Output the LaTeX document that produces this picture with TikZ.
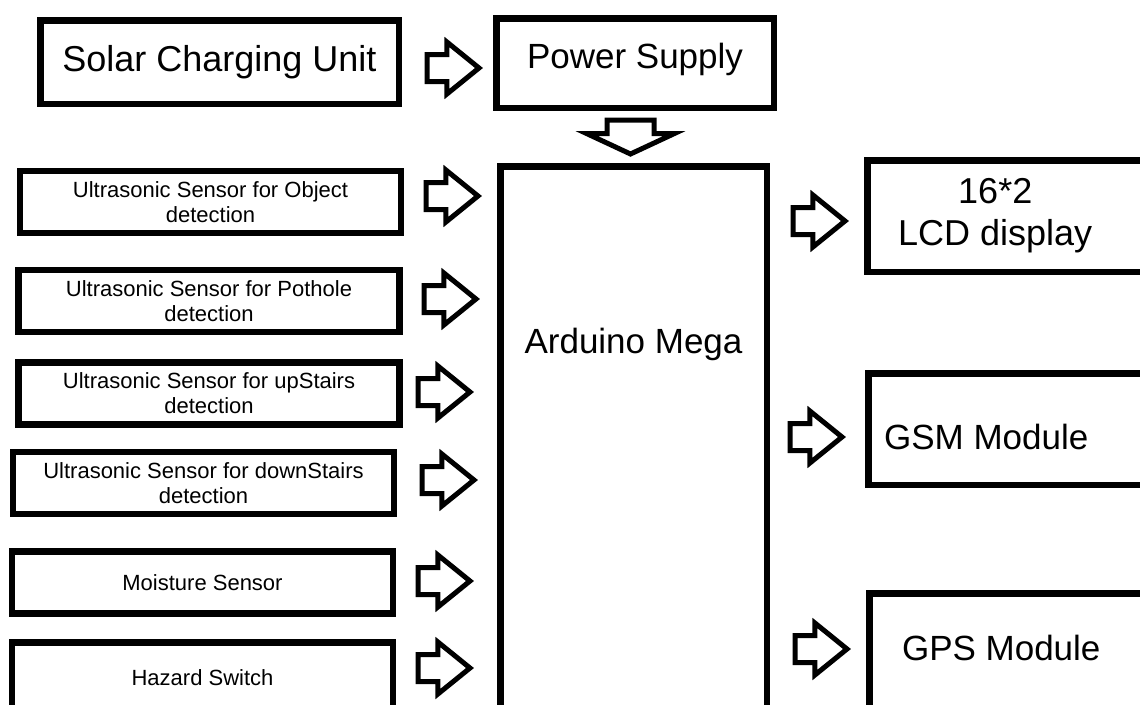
\documentclass[tikz,border=0pt]{standalone}
\usepackage{fontspec}
\setmainfont{Liberation Sans}
\usetikzlibrary{shapes.arrows}

\begin{document}
\begin{tikzpicture}[x=1pt, y=-1pt,
    box/.style={draw, line width=6.5pt, inner sep=0pt, align=center},
    sensor/.style={box, minimum width=381pt, minimum height=62pt, font=\fontsize{22}{25}\selectfont},
    bigtext/.style={align=center, inner sep=0pt, font=\fontsize{36}{42}\selectfont},
    flow/.style={single arrow, draw, line width=5pt, inner sep=0pt, text height=22pt, text depth=0pt,
        single arrow head extend=12.5pt, single arrow tip angle=78, minimum height=52pt, anchor=tail}]
  \useasboundingbox (0,0) rectangle (1140,704);
  \fill[white] (0,0) rectangle (1140,704);
  \clip (0,0) rectangle (1140,704);
  % supply
  \node[box, bigtext, minimum width=358.5pt, minimum height=83.5pt] (solar) at (219.5,62) {Solar Charging Unit};
  \node[box, font=\fontsize{35}{42}\selectfont, minimum width=277.5pt, text height=49.75pt, text depth=39.75pt,
      anchor=north] (power) at (635,15.25) {Power Supply};
  \node[box, font=\fontsize{35}{42}\selectfont, minimum width=266.5pt, text height=187pt, text depth=377pt,
      anchor=north] (mega) at (633.5,163.25) {Arduino Mega};
  \node[flow] (solarin) at (424.5,68) {};
  \node[flow, rotate=-90, text height=42pt, single arrow head extend=20pt,
      single arrow tip angle=130, minimum height=34pt] (powerin) at (630.5,117.5) {};
  % inputs
  \node[sensor] (obj) at (210.5,202) {Ultrasonic Sensor for Object\\detection};
  \node[sensor] (pot) at (209,301) {Ultrasonic Sensor for Pothole\\detection};
  \node[sensor] (up) at (209,393.5) {Ultrasonic Sensor for upStairs\\detection};
  \node[sensor] (down) at (203.5,483) {Ultrasonic Sensor for downStairs\\detection};
  \node[sensor] (moist) at (202.5,582.5) {Moisture Sensor};
  \node[sensor, minimum height=71.5pt] (hazard) at (202.5,678) {Hazard Switch};
  \foreach \x/\y [count=\i] in {423.5/196, 421.5/299, 415.5/392, 419.5/480, 415.5/581, 415.5/668}
    \node[flow] (in\i) at (\x,\y) {};
  % outputs
  \node[box, minimum width=296pt, minimum height=111.5pt, anchor=west] (lcd) at (864.25,216) {};
  \node[bigtext] (lcdtxt) at ([xshift=131pt]lcd.west) {16*2\\LCD display};
  \node[box, minimum width=296pt, minimum height=111.5pt, anchor=west] (gsm) at (865.25,429) {};
  \node[bigtext, font=\fontsize{35}{42}\selectfont] (gsmtxt) at ([xshift=121pt, yshift=-8pt]gsm.west) {GSM Module};
  \node[box, minimum width=296pt, minimum height=140pt, anchor=north west] (gps) at (866.25,590.25) {};
  \node[bigtext, font=\fontsize{35}{42}\selectfont] (gpstxt) at ([xshift=135pt, yshift=-58pt]gps.north west) {GPS Module};
  \foreach \x/\y [count=\i] in {790.5/221, 787.5/437, 792.5/649}
    \node[flow] (out\i) at (\x,\y) {};
\end{tikzpicture}
\end{document}
